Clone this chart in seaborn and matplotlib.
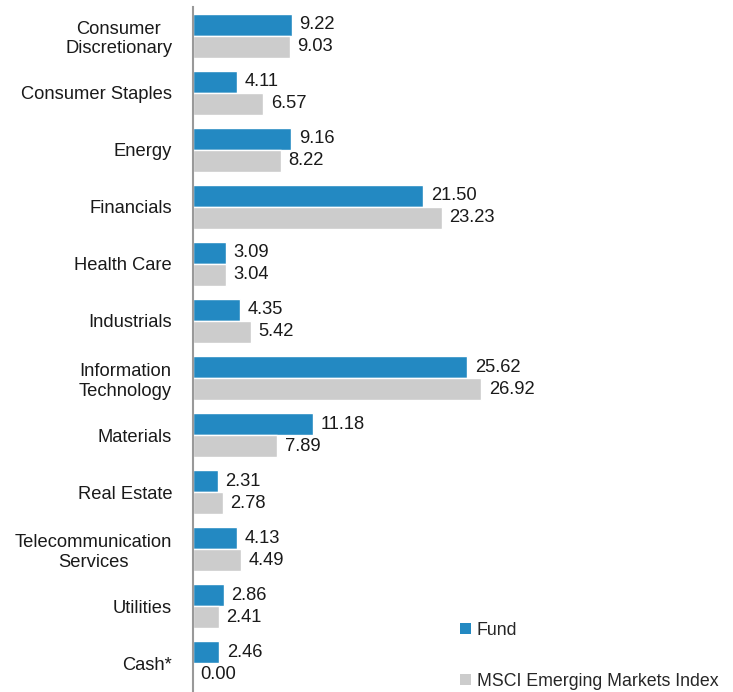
import matplotlib
matplotlib.use("Agg")
import matplotlib.pyplot as plt
import seaborn as sns
import pandas as pd
from matplotlib.patches import Patch

categories = ["Consumer\nDiscretionary", "Consumer Staples", "Energy", "Financials",
              "Health Care", "Industrials", "Information\nTechnology", "Materials",
              "Real Estate", "Telecommunication\nServices", "Utilities", "Cash*"]
fund = [9.22, 4.11, 9.16, 21.50, 3.09, 4.35, 25.62, 11.18, 2.31, 4.13, 2.86, 2.46]
index = [9.03, 6.57, 8.22, 23.23, 3.04, 5.42, 26.92, 7.89, 2.78, 4.49, 2.41, 0.00]
series = ["Fund", "MSCI Emerging Markets Index"]
colors = ["#2389C2", "#CCCCCC"]

df = pd.DataFrame({
    "Sector": categories * 2,
    "Value": fund + index,
    "Series": [series[0]] * len(categories) + [series[1]] * len(categories),
})

sns.set_theme(style="white")
plt.rcParams["font.family"] = ["Liberation Sans", "DejaVu Sans"]
FS = 13.2

fig = plt.figure(figsize=(7.33, 6.92), dpi=100)
ax = fig.add_axes([193 / 733, 0.0, (733 - 193) / 733, 685 / 692])

sns.barplot(data=df, y="Sector", x="Value", hue="Series", palette=colors,
            orient="h", width=0.77, ax=ax, legend=False, saturation=1)

for cont in ax.containers:
    ax.bar_label(cont, fmt="%.2f", padding=5.5, fontsize=FS, color="#1a1a1a")

ax.set_xlim(0, 540 / 10.7)
ax.set_ylim(11.5, -0.5)
ax.set_xlabel("")
ax.set_ylabel("")
ax.set_xticks([])
ax.tick_params(axis="y", length=0, labelsize=FS, colors="#1a1a1a", pad=15)
for lbl in ax.get_yticklabels():
    lbl.set_horizontalalignment("right")
    lbl.set_multialignment("center")
for s in ["top", "right", "bottom"]:
    ax.spines[s].set_visible(False)
ax.spines["left"].set_color("#999999")
ax.spines["left"].set_linewidth(1.5)

handles = [Patch(facecolor=c, edgecolor="none") for c in colors]
fig.legend(handles, series, loc="lower left", bbox_to_anchor=(444 / 733, -0.02),
           frameon=False, fontsize=12.8, handlelength=0.6, handleheight=0.6,
           handletextpad=0.35, labelspacing=1.9)

fig.savefig("out.png", dpi=100)
